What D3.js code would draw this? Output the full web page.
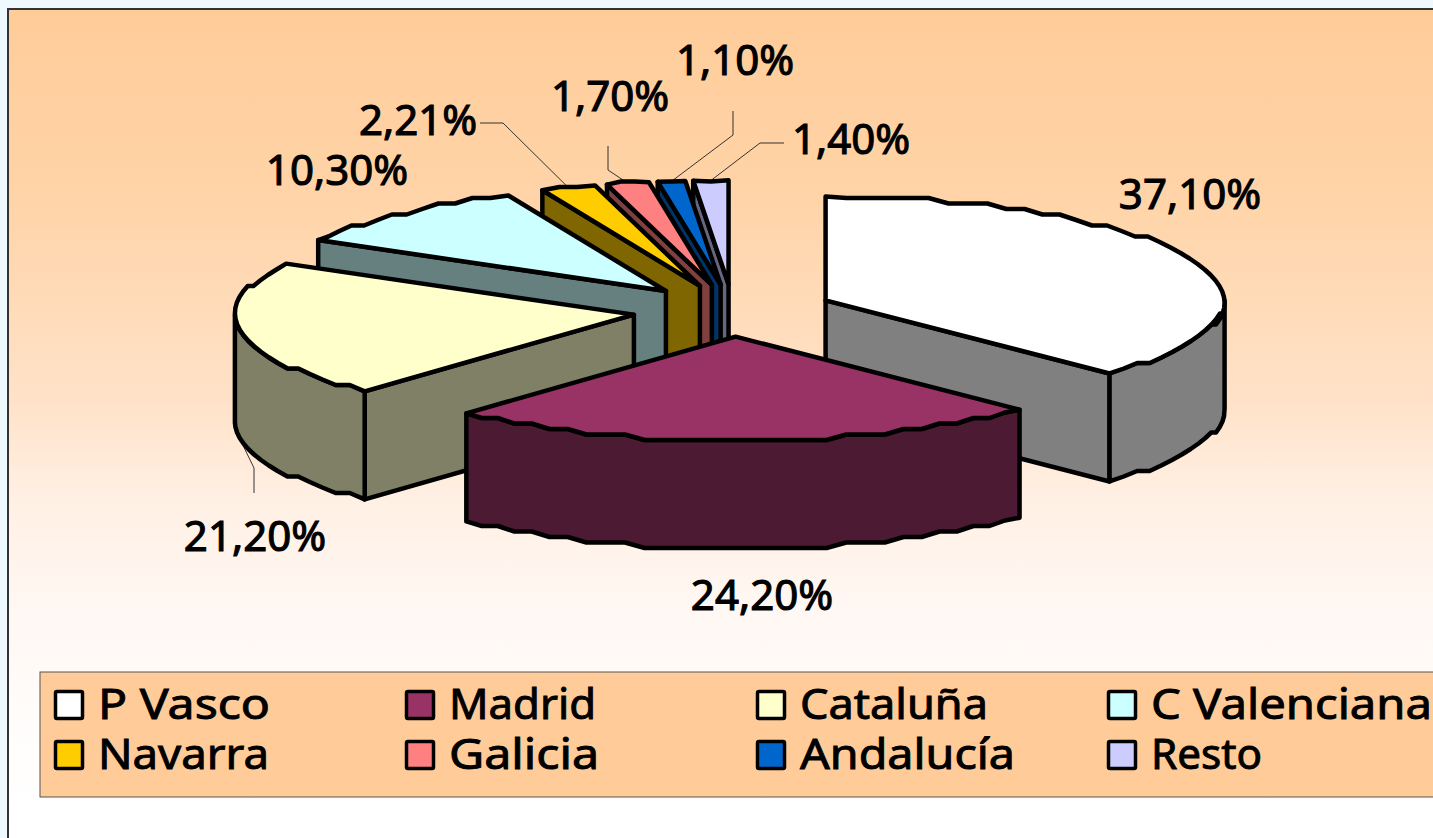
<!DOCTYPE html>
<html>
<head>
<meta charset="utf-8">
<script src="https://cdnjs.cloudflare.com/ajax/libs/d3/7.8.5/d3.min.js"></script>
<style>
    html, body { margin: 0; padding: 0; background: #eef8ff; overflow: hidden; }
    text { font-family: "Noto Sans", sans-serif; fill: #000; stroke: #000; }
</style>
</head>
<body>
<div id="chart"></div>
<script>
const categories = ["P Vasco", "Madrid", "Cataluña", "C Valenciana", "Navarra", "Galicia", "Andalucía", "Resto"];
const shares = [37.10, 24.20, 21.20, 10.30, 2.21, 1.70, 1.10, 1.40];
const topColors = ["#ffffff", "#993366", "#ffffcc", "#ccffff", "#ffcc00", "#ff8080", "#0066cc", "#ccccff"];
const sideColors = ["#808080", "#4d1a33", "#808066", "#668080", "#806600", "#804040", "#003366", "#666680"];

// where each percentage sits, and the elbow of its leader line if it has one
const labelSpots = [[1190, 195], [762, 596], [255, 537], [337, 171], [418, 121], [610, 97], [735, 61], [851, 140]];
const leaderRuns = [null, null, [[254, 493], [254, 468]], null, [[480, 123], [503, 123]], [[608, 146], [608, 170]], [[733, 111], [733, 135]], [[784, 143], [760, 143]]];

// legend text in the original is stretched, so each name keeps its own width
const legendWidths = [172, 147, 188, 281, 171, 150, 215, 111];

// painter's order, back slices first
const drawOrder = [7, 6, 5, 4, 3, 0, 2, 1];

const panelStops = [[9, "#ffcc99"], [200, "#ffd4a8"], [400, "#ffe2c8"], [500, "#fff0e4"], [600, "#fff7f2"], [750, "#fffefd"], [838, "#ffffff"]];

const width = 1433;
const height = 838;
const depth = 108;
const explode = 0.2515;

const svg = d3.select("#chart")
    .append("svg")
    .attr("width", width)
    .attr("height", height)
    .style("display", "block");

const grad = svg.append("defs")
    .append("linearGradient")
    .attr("id", "panel-fill")
    .attr("gradientUnits", "userSpaceOnUse")
    .attr("x1", 0).attr("y1", 0)
    .attr("x2", 0).attr("y2", height);
panelStops.forEach(([y, color]) => {
    grad.append("stop").attr("offset", y / height).attr("stop-color", color);
});

svg.append("rect")
    .attr("x", 8).attr("y", 9)
    .attr("width", width).attr("height", height)
    .attr("fill", "url(#panel-fill)")
    .attr("stroke", "#333")
    .attr("stroke-width", 2);

// disk units to pixels: 1 is the pie radius
const xScale = d3.scaleLinear().domain([-1, 1]).range([733 - 399, 733 + 399]);
const yScale = d3.scaleLinear().domain([-1, 1]).range([310.5 + 104, 310.5 - 104]);

const arcs = d3.pie().sort(null).value(d => d)(shares);

function apexOf(a){
    const mid = (a.startAngle + a.endAngle) / 2;
    return [explode * Math.sin(mid), explode * Math.cos(mid)];
}

function rimPoint(a, angle){
    const [ax, ay] = apexOf(a);
    return [xScale(ax + Math.sin(angle)), yScale(ay + Math.cos(angle))];
}

// the original rim is a coarse polyline, so sample every few degrees and snap y
function rimLine(a, from, to){
    const pts = [rimPoint(a, from)];
    const steps = Math.max(1, Math.ceil((to - from) / (3 * Math.PI / 180)));
    for(let i = 1; i < steps; i++){
        const [x, y] = rimPoint(a, from + (to - from) * i / steps);
        pts.push([x, Math.round(y / 5.5) * 5.5]);
    }
    pts.push(rimPoint(a, to));
    return pts;
}

const dropped = pts => pts.map(([x, y]) => [x, y + depth]);
const outline = d3.line();

function drawPoly(parent, pts, fill){
    parent.append("path")
        .attr("d", outline(pts) + "Z")
        .attr("fill", fill)
        .attr("stroke", "#000")
        .attr("stroke-width", 4.5)
        .attr("stroke-linejoin", "round");
}

// leader lines go under the slices so they stop at the rim
const leaders = svg.append("g").attr("fill", "none").attr("stroke", "#333").attr("stroke-width", 1);
leaderRuns.forEach((run, i) => {
    if(!run) return;
    const a = arcs[i];
    const end = rimPoint(a, (a.startAngle + a.endAngle) / 2);
    if(i === 2) end[1] += depth;
    leaders.append("path").attr("d", d3.line()([...run, end]));
});

const pieGroup = svg.append("g");

drawOrder.forEach(i => {
    const a = arcs[i];
    const [ax, ay] = apexOf(a);
    const apex = [xScale(ax), yScale(ay)];
    const g = pieGroup.append("g");

    // only the cut face turned towards the viewer is drawn
    [a.startAngle, a.endAngle].forEach((angle, k) => {
        const facing = k === 0 ? Math.sin(angle) < -0.001 : Math.sin(angle) > 0.001;
        if(!facing) return;
        const rim = rimPoint(a, angle);
        drawPoly(g, [apex, rim, [rim[0], rim[1] + depth], [apex[0], apex[1] + depth]], sideColors[i]);
    });

    // outer wall, front half of the circle only
    const wallFrom = Math.max(a.startAngle, Math.PI / 2);
    const wallTo = Math.min(a.endAngle, Math.PI * 1.5);
    if(wallTo > wallFrom){
        const edge = rimLine(a, wallFrom, wallTo);
        drawPoly(g, [...edge, ...dropped(edge).reverse()], sideColors[i]);
    }

    drawPoly(g, [apex, ...rimLine(a, a.startAngle, a.endAngle)], topColors[i]);
});

svg.append("g")
    .selectAll("text")
    .data(shares)
    .join("text")
    .attr("x", (d, i) => labelSpots[i][0])
    .attr("y", (d, i) => labelSpots[i][1] + 14)
    .attr("text-anchor", "middle")
    .attr("font-size", 42)
    .attr("stroke-width", 1.1)
    .text(d => d.toFixed(2).replace(".", ",") + "%");

// legend
const legend = svg.append("g");
legend.append("rect")
    .attr("x", 40).attr("y", 672)
    .attr("width", width).attr("height", 125)
    .attr("fill", "#ffcc99")
    .attr("stroke", "#555")
    .attr("stroke-width", 1);

const legendCol = d3.scalePoint().domain([0, 1, 2, 3]).range([54, 1107]);
const legendRow = d3.scalePoint().domain([0, 1]).range([690, 740]);

const items = legend.selectAll("g")
    .data(categories)
    .join("g")
    .attr("transform", (d, i) => `translate(${legendCol(i % 4)},${legendRow(Math.floor(i / 4))})`);

items.append("rect")
    .attr("x", 1.5).attr("y", 1.5)
    .attr("width", 27).attr("height", 27)
    .attr("rx", 1.5)
    .attr("fill", (d, i) => topColors[i])
    .attr("stroke", "#000")
    .attr("stroke-width", 3.5);

items.append("text")
    .attr("x", 44)
    .attr("y", 29)
    .attr("font-size", 41)
    .attr("stroke-width", 0.9)
    .attr("textLength", (d, i) => legendWidths[i])
    .attr("lengthAdjust", "spacingAndGlyphs")
    .text(d => d);
</script>
</body>
</html>
